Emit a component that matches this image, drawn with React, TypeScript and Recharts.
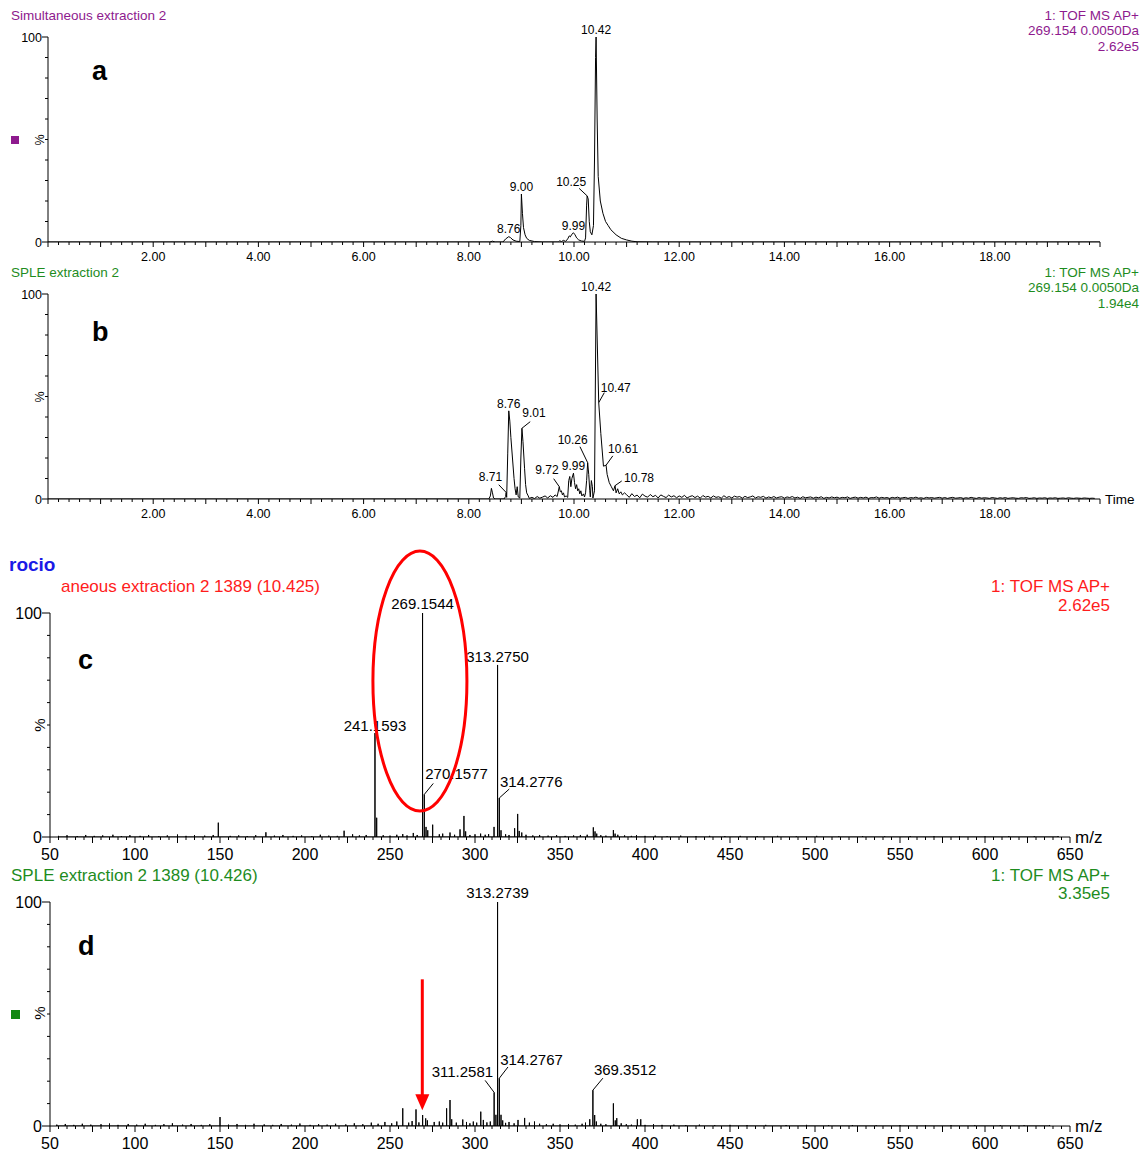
import React from 'react';
import { ComposedChart, Line, XAxis, YAxis, ReferenceDot } from 'recharts';

const FONT = '"Liberation Sans", Arial, Helvetica, sans-serif';
const PURPLE = '#8e1a8e';
const GREEN = '#1e8c1e';
const RED = '#ff1c1c';
const BLUE = '#1a1ae6';

// ---- chromatogram a: Simultaneous extraction 2 (time, %)
const traceA: [number, number][] = [
  [0, 0], [8.4, 0], [8.45, 0.4], [8.5, 0], [8.65, 0], [8.7, 1.5], [8.76, 2.6], [8.79, 2.2], [8.84, 1],
  [8.9, 0.4], [8.97, 0.2], [8.99, 8], [9.0, 23.4], [9.02, 14], [9.04, 7], [9.07, 3.5], [9.1, 1.8],
  [9.15, 0.8], [9.25, 0.2], [9.4, 0], [9.7, 0], [9.73, 0.6], [9.76, 0.2], [9.8, 0.8], [9.84, 0.3],
  [9.88, 1.5], [9.91, 3], [9.93, 2.5], [9.96, 3.8], [9.99, 4.5], [10.02, 3.5], [10.05, 2], [10.09, 1],
  [10.14, 0.5], [10.2, 0.3], [10.22, 2], [10.24, 18], [10.25, 22.5], [10.27, 21], [10.29, 10],
  [10.31, 5], [10.34, 3.5], [10.37, 8], [10.39, 40], [10.41, 90], [10.42, 100], [10.44, 60],
  [10.46, 32], [10.5, 20], [10.55, 14], [10.6, 10], [10.65, 8], [10.7, 6], [10.8, 3.5], [10.9, 1.8],
  [11.0, 1], [11.1, 0.4], [11.2, 0.1], [11.5, 0], [20, 0],
];

// ---- chromatogram b: SPLE extraction 2 (time, %)
const traceB: [number, number][] = [
  [0, 0], [8.38, 0], [8.41, 1.5], [8.43, 5.2], [8.45, 3], [8.47, 0.5], [8.5, 0], [8.67, 0], [8.7, 1.2],
  [8.71, 3.2], [8.72, 0.8], [8.74, 22], [8.76, 43], [8.78, 38], [8.8, 30], [8.83, 20], [8.86, 10],
  [8.88, 5], [8.9, 2], [8.92, 6], [8.94, 1], [8.97, 0.5], [8.99, 20], [9.01, 34.5], [9.03, 28],
  [9.06, 15], [9.08, 7], [9.1, 3], [9.13, 1.5], [9.15, 0.3], [9.2, 0.8], [9.25, 0.2], [9.3, 1.2],
  [9.35, 0.4], [9.4, 0.9], [9.45, 1.5], [9.5, 0.5], [9.55, 1.6], [9.6, 0.8], [9.64, 2], [9.68, 1.2],
  [9.72, 6], [9.74, 3.5], [9.76, 4], [9.78, 2], [9.8, 3], [9.82, 1], [9.85, 1.5], [9.88, 0.8],
  [9.9, 9], [9.92, 11], [9.94, 6], [9.96, 10], [9.99, 12.6], [10.01, 8], [10.03, 5], [10.05, 7],
  [10.07, 4], [10.09, 5], [10.11, 2.5], [10.13, 4], [10.15, 1.5], [10.18, 2.5], [10.2, 1], [10.22, 3],
  [10.24, 9], [10.26, 17.7], [10.28, 12], [10.3, 4], [10.31, 1], [10.33, 9], [10.35, 6], [10.36, 0.5],
  [10.39, 4], [10.42, 100], [10.47, 47], [10.51, 32], [10.56, 16], [10.61, 16.5], [10.63, 12],
  [10.67, 8], [10.71, 6], [10.75, 4], [10.78, 6.5], [10.8, 3], [10.83, 5], [10.86, 2.5], [10.89, 3.5],
  [10.92, 2], [10.96, 3],
];
// baseline noise of b, read every 0.05 min from 11.00
const noiseBStart = 11;
const noiseBStep = 0.05;
const noiseB = [
  2.1, 0.8, 2.6, 1.2, 1.9, 0.6, 2.4, 1.4, 0.9, 2.2, 1.1, 1.8, 0.5, 2.0, 1.3, 0.7, 1.9, 1.0, 1.6, 0.6,
  1.5, 0.8, 1.8, 0.5, 1.2, 1.6, 0.7, 1.4, 0.4, 1.7, 0.9, 1.3, 0.5, 1.5, 0.8, 1.1, 0.4, 1.6, 0.7, 1.2,
  0.5, 1.4, 0.9, 1.2, 0.4, 1.3, 0.7, 1.0, 1.5, 0.5, 1.1, 0.8, 1.3, 0.4, 1.0, 0.6, 1.2, 0.5, 0.9, 1.1,
  0.4, 1.0, 0.7, 1.2, 0.5, 0.9, 0.3, 1.1, 0.6, 0.8, 1.0, 0.4, 0.9, 0.6, 1.1, 0.3, 0.8, 0.5, 1.0, 0.6,
  0.9, 0.4, 0.8, 0.6, 1.0, 0.3, 0.7, 0.9, 0.4, 0.8, 0.5, 0.9, 0.3, 0.7, 0.6, 1.0, 0.4, 0.8, 0.5, 0.7,
  0.3, 0.8, 0.5, 0.9, 0.4, 0.6, 0.8, 0.3, 0.7, 0.5, 0.9, 0.4, 0.6, 0.3, 0.8, 0.5, 0.7, 0.4, 0.6, 0.8,
  0.4, 0.7, 0.3, 0.6, 0.8, 0.4, 0.5, 0.7, 0.3, 0.6, 0.4, 0.8, 0.5, 0.3, 0.7, 0.4, 0.6, 0.5, 0.3, 0.7,
  0.5, 0.3, 0.6, 0.4, 0.7, 0.3, 0.5, 0.6, 0.4, 0.3, 0.6, 0.5, 0.7, 0.3, 0.4, 0.6, 0.3, 0.5, 0.4, 0.6,
  0.3, 0.5, 0.4, 0.6, 0.3, 0.4, 0.5, 0.3, 0.6, 0.4, 0.3, 0.5, 0.4, 0.3, 0.5, 0.4, 0.3, 0.4, 0.3,
];

// peak labels [label, time, %]
const notesA: [string, number, number][] = [
  ['8.76', 8.76, 2.6], ['9.00', 9.0, 23.4], ['9.99', 9.99, 4.5], ['10.25', 10.25, 22.5], ['10.42', 10.42, 100],
];
const notesB: [string, number, number][] = [
  ['8.71', 8.71, 3.2], ['8.76', 8.76, 43], ['9.01', 9.01, 34.5], ['9.72', 9.72, 6], ['9.99', 9.99, 12.6],
  ['10.26', 10.26, 17.7], ['10.42', 10.42, 100], ['10.47', 10.47, 47], ['10.61', 10.61, 16.5], ['10.78', 10.78, 6.5],
];

// ---- spectrum c (m/z, %)
const peaksC: [number, number][] = [
  [149, 6.4], [177, 2.1], [223, 2.8], [241.1593, 46.4], [242.16, 8.6], [269.1544, 100], [270.1577, 19],
  [271.2, 4.5], [272.2, 3], [275.1, 5.5], [291.2, 3.4], [293.5, 9.4], [294.5, 2.5], [311.2, 4.5],
  [313.275, 76.8], [314.2776, 17.4], [315.3, 3], [323.3, 3.9], [325.1, 10.3], [326, 2.7], [327.5, 2],
  [369.6, 4.3], [370.6, 2.5], [371.6, 1.5], [381.4, 3.1], [382.4, 1.5], [384, 1], [395, 0.8],
];
const noiseC: [number, number][] = [
  [55, 0.5], [60, 0.8], [66, 0.4], [71, 0.9], [76, 0.5], [81, 0.7], [87, 1.0], [92, 0.4], [97, 0.8],
  [103, 0.5], [108, 0.9], [114, 0.4], [119, 0.7], [125, 1.1], [130, 0.5], [135, 0.8], [141, 0.6],
  [146, 0.9], [156, 0.5], [161, 0.7], [166, 0.4], [171, 0.8], [182, 0.6], [187, 0.9], [193, 0.5],
  [198, 0.7], [204, 0.4], [209, 1.0], [214, 0.6], [219, 0.5], [228, 1.2], [232, 0.7], [236, 0.9],
  [246, 0.8], [250, 0.6], [254, 1.0], [257.5, 1.3], [260, 0.7], [263.7, 1.8], [266, 0.9], [279, 1.2],
  [281, 1.5], [285.3, 2.0], [288, 1.0], [297, 0.9], [300, 1.2], [303.3, 1.5], [306, 1.0], [308, 1.3],
  [318, 1.2], [320, 0.9], [330, 1.0], [334, 0.7], [338, 0.9], [343, 0.6], [348, 0.8], [353, 0.5],
  [358, 0.7], [362, 0.9], [366, 1.0], [374, 0.8], [377, 0.6], [388, 0.7], [392, 0.5], [400, 0.5],
  [406, 0.6], [413, 0.4], [421, 0.6], [430, 0.4], [438, 0.5], [447, 0.4], [456, 0.5], [466, 0.4],
  [478, 0.5], [489, 0.3], [501, 0.5], [514, 0.3], [528, 0.4], [541, 0.3], [556, 0.4], [570, 0.3],
  [585, 0.4], [600, 0.3], [614, 0.4], [629, 0.3], [643, 0.4],
];
const notesC: [string, number, number][] = [
  ['241.1593', 241.1593, 46.4], ['269.1544', 269.1544, 100], ['270.1577', 270.1577, 19],
  ['313.2750', 313.275, 76.8], ['314.2776', 314.2776, 17.4],
];

// ---- spectrum d (m/z, %)
const peaksD: [number, number][] = [
  [150, 4], [257.5, 7.9], [265.3, 7.4], [269.2, 4.9], [271, 3.4], [272, 2.5], [283.3, 7.9], [285.3, 11.6],
  [286.3, 3], [292.8, 2.9], [303.4, 6.4], [304.9, 2.7], [311.2581, 15], [312.3, 5], [313.2739, 100],
  [314.2767, 21.3], [315.3, 5], [316.3, 2.5], [325.3, 2.7], [329.2, 3.6], [367.5, 3], [369.3512, 16],
  [370.4, 4.9], [371.4, 2], [381.4, 10.1], [382.5, 2.5], [383.4, 3.5], [395.5, 3], [397.5, 3],
];
const noiseD: [number, number][] = [
  [54, 0.6], [59, 0.9], [64, 0.5], [69, 1.0], [74, 0.6], [80, 0.8], [85, 1.1], [90, 0.5], [96, 0.9],
  [101, 0.6], [106, 1.0], [112, 0.5], [117, 0.8], [122, 1.2], [128, 0.6], [133, 0.9], [139, 0.5],
  [144, 0.8], [155, 0.6], [160, 0.9], [165, 0.5], [170, 1.0], [176, 0.7], [181, 0.5], [186, 0.9],
  [192, 0.6], [197, 1.1], [203, 0.5], [208, 0.8], [213, 0.6], [218, 1.0], [224, 0.7], [229, 1.2],
  [234, 0.8], [239, 1.5], [243, 1.0], [247, 1.8], [251, 1.2], [254, 2.0], [261, 1.5], [263, 2.2],
  [267, 1.6], [276, 1.8], [279, 2.0], [281, 1.5], [289, 1.5], [295, 1.8], [297, 1.2], [299, 2.0],
  [301, 1.5], [307, 1.6], [309, 2.0], [318, 1.4], [320, 1.8], [323, 1.2], [332, 1.5], [335, 2.0],
  [338, 1.0], [342, 0.8], [346, 1.0], [350, 0.7], [355, 0.9], [359, 0.6], [363, 1.0], [365, 1.5],
  [374, 1.0], [377, 0.8], [386, 1.2], [389, 0.8], [392, 0.6], [400, 0.5], [405, 0.8], [410, 0.5],
  [417, 0.6], [424, 0.4], [432, 0.6], [441, 0.4], [450, 0.5], [460, 0.4], [471, 0.5], [483, 0.4],
  [495, 0.5], [508, 0.3], [522, 0.4], [536, 0.3], [550, 0.4], [565, 0.3], [580, 0.4], [594, 0.3],
  [609, 0.4], [623, 0.3], [638, 0.4],
];
const notesD: [string, number, number][] = [
  ['311.2581', 311.2581, 15], ['313.2739', 313.2739, 100], ['314.2767', 314.2767, 21.3], ['369.3512', 369.3512, 16],
];

// axis ticks
const timeLabels = [2, 4, 6, 8, 10, 12, 14, 16, 18];
const timeTicks = Array.from({ length: 101 }, (_, i) => Math.round(i * 2) / 10);
const mzLabels = [50, 100, 150, 200, 250, 300, 350, 400, 450, 500, 550, 600, 650];
const mzTicks = Array.from({ length: 121 }, (_, i) => 50 + i * 5);
const pctTicks = [0, 10, 20, 30, 40, 50, 60, 70, 80, 90, 100];

// where the label text / leader sits relative to each labelled peak
type Off = { lx?: number; ly?: number; tx?: number; ty: number; anchor?: string };
const offA: Record<string, Off> = {
  '8.76': { ty: -4 }, '9.00': { ty: -3.5 }, '9.99': { ty: -3 },
  '10.25': { lx: -8, ly: -7.5, tx: -16, ty: -10 }, '10.42': { ty: -3 },
};
const offB: Record<string, Off> = {
  '8.71': { lx: -7.4, ly: -7.7, tx: -15.7, ty: -11 },
  '8.76': { ty: -3 },
  '9.01': { lx: 8.3, ly: -6.6, tx: 12, ty: -11.6 },
  '9.72': { lx: -5.6, ly: -8, tx: -12.3, ty: -12.3 },
  '9.99': { ty: -3 },
  '10.26': { lx: -7.7, ly: -16, tx: -15, ty: -18.7 },
  '10.42': { ty: -3 },
  '10.47': { lx: 5.6, ly: -10, tx: 2, ty: -10.6, anchor: 'start' },
  '10.61': { lx: 6.7, ly: -9.3, tx: 2, ty: -12, anchor: 'start' },
  '10.78': { lx: 6.7, ly: -4.7, tx: 9, ty: -4, anchor: 'start' },
};
const offC: Record<string, Off> = {
  '241.1593': { ty: -2 }, '269.1544': { ty: -4 },
  '270.1577': { lx: 9, ly: -11, tx: 1, ty: -15, anchor: 'start' },
  '313.2750': { ty: -3 },
  '314.2776': { lx: 10, ly: -9, tx: 0.7, ty: -11.3, anchor: 'start' },
};
const offD: Record<string, Off> = {
  '311.2581': { lx: -9, ly: -12, tx: -1, ty: -15, anchor: 'end' },
  '313.2739': { ty: -4 },
  '314.2767': { lx: 8.7, ly: -11.3, tx: 1, ty: -13.5, anchor: 'start' },
  '369.3512': { lx: 10, ly: -12, tx: 1, ty: -15, anchor: 'start' },
};

const ringAt = { x: 267.6, y: 69.6 };
const arrowAt = { x: 269, y: 7 };

const toPts = (rows: [number, number][]) => rows.map(([x, y]) => ({ x, y }));
const chromB = [...toPts(traceB), ...noiseB.map((y, i) => ({ x: noiseBStart + i * noiseBStep, y }))];
const sticks = (rows: [number, number][]) =>
  rows.slice().sort((a, b) => a[0] - b[0]).flatMap(([x, y]) => [{ x, y: 0 }, { x, y }, { x, y: 0 }]);
const spectC = sticks([...peaksC, ...noiseC]);
const spectD = sticks([...peaksD, ...noiseD]);

function note(p: any, label: string, o: Off, size: number) {
  const { cx, cy } = p;
  return (
    <g>
      {o.lx !== undefined && (
        <line x1={cx} y1={cy} x2={cx + o.lx} y2={cy + (o.ly || 0)} stroke="#000" strokeWidth={1} />
      )}
      <text x={cx + (o.tx || 0)} y={cy + o.ty} textAnchor={o.anchor || 'middle'} fontSize={size}
        fontFamily={FONT} fill="#000">{label}</text>
    </g>
  );
}

function XTick(p: any, kind: 'time' | 'mz') {
  const { x, y, payload } = p;
  const v = payload.value;
  let len = 3;
  let lab: string | null = null;
  if (kind === 'time') {
    if (Math.abs(v - Math.round(v)) < 1e-6) len = 5;
    if (timeLabels.includes(v)) lab = v.toFixed(2);
  } else {
    if (v % 25 === 0) len = 6;
    if (mzLabels.includes(v)) lab = String(v);
  }
  return (
    <g>
      <line x1={x} y1={y} x2={x} y2={y + len} stroke="#000" strokeWidth={1} />
      {lab && (
        <text x={x} y={y + (kind === 'time' ? 19 : 23)} textAnchor="middle"
          fontSize={kind === 'time' ? 12.5 : 16} fontFamily={FONT} fill="#000">{lab}</text>
      )}
    </g>
  );
}

function YTick(p: any, big: boolean) {
  const { x, y, payload } = p;
  const v = payload.value;
  const major = v === 0 || v === 100;
  const len = major ? (big ? 8 : 6) : 3;
  return (
    <g>
      <line x1={x - len} y1={y} x2={x} y2={y} stroke="#000" strokeWidth={1} />
      {major && (
        <text x={x - len} y={y + (big ? 5.5 : 4.5)} textAnchor="end" fontSize={big ? 16 : 12.5}
          fontFamily={FONT} fill="#000">{v}</text>
      )}
    </g>
  );
}

function Chrom({ top, data, notes, offs }: any) {
  return (
    <div style={{ position: 'absolute', left: 0, top }}>
      <ComposedChart width={1148} height={270} margin={{ top: 37, right: 48, bottom: 8, left: 8 }}>
        <XAxis type="number" dataKey="x" domain={[0, 20]} ticks={timeTicks} interval={0} allowDataOverflow
          tickSize={0} tickMargin={0} tickLine={false} axisLine={{ stroke: '#000' }} height={20}
          tick={(p: any) => XTick(p, 'time')} />
        <YAxis type="number" dataKey="y" domain={[0, 100]} ticks={pctTicks} interval={0} allowDataOverflow
          tickSize={0} tickMargin={0} tickLine={false} axisLine={{ stroke: '#000' }} width={40}
          tick={(p: any) => YTick(p, false)} />
        <Line data={data} dataKey="y" type="linear" stroke="#000" strokeWidth={1} dot={false}
          activeDot={false} isAnimationActive={false} />
        {notes.map(([label, x, y]: [string, number, number]) => (
          <ReferenceDot key={label} x={x} y={y} r={0} ifOverflow="visible"
            shape={(p: any) => note(p, label, offs[label], 12)} />
        ))}
      </ComposedChart>
    </div>
  );
}

function Spect({ top, height, mtop, data, notes, offs, extra }: any) {
  return (
    <div style={{ position: 'absolute', left: 0, top }}>
      <ComposedChart width={1148} height={height}
        margin={{ top: mtop, right: 78, bottom: height - mtop - 224 - 20, left: 10 }}>
        <XAxis type="number" dataKey="x" domain={[50, 650]} ticks={mzTicks} interval={0} allowDataOverflow
          tickSize={0} tickMargin={0} tickLine={false} axisLine={{ stroke: '#000' }} height={20}
          tick={(p: any) => XTick(p, 'mz')} />
        <YAxis type="number" dataKey="y" domain={[0, 100]} ticks={pctTicks} interval={0} allowDataOverflow
          tickSize={0} tickMargin={0} tickLine={false} axisLine={{ stroke: '#000' }} width={40}
          tick={(p: any) => YTick(p, true)} />
        <Line data={data} dataKey="y" type="linear" stroke="#000" strokeWidth={1} dot={false}
          activeDot={false} isAnimationActive={false} />
        {notes.map(([label, x, y]: [string, number, number]) => (
          <ReferenceDot key={label} x={x} y={y} r={0} ifOverflow="visible"
            shape={(p: any) => note(p, label, offs[label], 15)} />
        ))}
        {extra}
      </ComposedChart>
    </div>
  );
}

const T = (props: any) => <text fontFamily={FONT} {...props} />;

export default function App() {
  return (
    <div style={{ position: 'absolute', left: 0, top: 0, width: 1148, height: 1154, background: '#fff' }}>
      <Chrom top={0} data={toPts(traceA)} notes={notesA} offs={offA} />
      <Chrom top={257} data={chromB} notes={notesB} offs={offB} />
      <Spect top={540} height={330} mtop={73} data={spectC} notes={notesC} offs={offC}
        extra={
          <ReferenceDot x={ringAt.x} y={ringAt.y} r={0} ifOverflow="visible"
            shape={(p: any) => <ellipse cx={p.cx} cy={p.cy} rx={47} ry={130} fill="none" stroke="#ff0000" strokeWidth={3} />} />
        } />
      <Spect top={849} height={305} mtop={53} data={spectD} notes={notesD} offs={offD}
        extra={
          <ReferenceDot x={arrowAt.x} y={arrowAt.y} r={0} ifOverflow="visible"
            shape={(p: any) => (
              <g>
                <line x1={p.cx} y1={p.cy - 131} x2={p.cx} y2={p.cy - 14} stroke="#ff0000" strokeWidth={3} />
                <polygon points={`${p.cx - 7},${p.cy - 16} ${p.cx + 7},${p.cy - 16} ${p.cx},${p.cy}`} fill="#ff0000" />
              </g>
            )} />
        } />
      <svg width={1148} height={1154} style={{ position: 'absolute', left: 0, top: 0, pointerEvents: 'none' }}>
        {/* panel a */}
        <T x={11} y={20} fontSize={13.5} fill={PURPLE}>Simultaneous extraction 2</T>
        <T x={1139} y={20} fontSize={13.5} fill={PURPLE} textAnchor="end">1: TOF MS AP+</T>
        <T x={1139} y={35} fontSize={13.5} fill={PURPLE} textAnchor="end">269.154 0.0050Da</T>
        <T x={1139} y={51} fontSize={13.5} fill={PURPLE} textAnchor="end">2.62e5</T>
        <rect x={11} y={136} width={8} height={8} fill={PURPLE} />
        <T x={0} y={0} fontSize={12.5} textAnchor="middle" transform="translate(44,140) rotate(-90)">%</T>
        <T x={92} y={80} fontSize={27} fontWeight="bold">a</T>
        {/* panel b */}
        <T x={11} y={277} fontSize={13.5} fill={GREEN}>SPLE extraction 2</T>
        <T x={1139} y={277} fontSize={13.5} fill={GREEN} textAnchor="end">1: TOF MS AP+</T>
        <T x={1139} y={292} fontSize={13.5} fill={GREEN} textAnchor="end">269.154 0.0050Da</T>
        <T x={1139} y={308} fontSize={13.5} fill={GREEN} textAnchor="end">1.94e4</T>
        <T x={0} y={0} fontSize={12.5} textAnchor="middle" transform="translate(44,397) rotate(-90)">%</T>
        <T x={92} y={341} fontSize={27} fontWeight="bold">b</T>
        <T x={1105} y={504} fontSize={13.5}>Time</T>
        {/* panel c */}
        <T x={9} y={571} fontSize={19} fontWeight="bold" fill={BLUE}>rocio</T>
        <T x={61} y={592} fontSize={17} fill={RED}>aneous extraction 2 1389 (10.425)</T>
        <T x={1110} y={592} fontSize={17} fill={RED} textAnchor="end">1: TOF MS AP+</T>
        <T x={1110} y={611} fontSize={17} fill={RED} textAnchor="end">2.62e5</T>
        <T x={0} y={0} fontSize={15} textAnchor="middle" transform="translate(45,725) rotate(-90)">%</T>
        <T x={78} y={669} fontSize={27} fontWeight="bold">c</T>
        <T x={1075} y={843} fontSize={17}>m/z</T>
        {/* panel d */}
        <T x={11} y={881} fontSize={17} fill={GREEN}>SPLE extraction 2 1389 (10.426)</T>
        <T x={1110} y={881} fontSize={17} fill={GREEN} textAnchor="end">1: TOF MS AP+</T>
        <T x={1110} y={899} fontSize={17} fill={GREEN} textAnchor="end">3.35e5</T>
        <rect x={11} y={1010} width={9} height={9} fill="#118811" />
        <T x={0} y={0} fontSize={15} textAnchor="middle" transform="translate(45,1013) rotate(-90)">%</T>
        <T x={78} y={955} fontSize={27} fontWeight="bold">d</T>
        <T x={1075} y={1132} fontSize={17}>m/z</T>
      </svg>
    </div>
  );
}
